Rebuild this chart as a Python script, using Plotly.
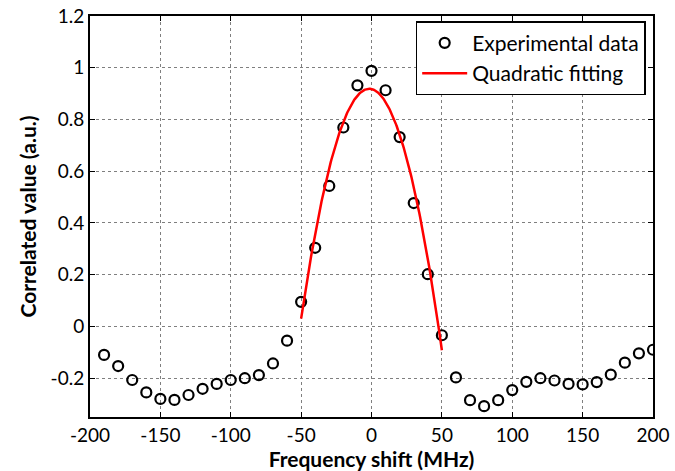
import numpy as np
import plotly.graph_objects as go

# Frequency shift (MHz) and measured correlation values
freq_shift = list(range(-190, 201, 10))
correlated = [
    -0.110, -0.153, -0.207, -0.255, -0.280, -0.284, -0.265, -0.241, -0.222, -0.207,
    -0.200, -0.188, -0.143, -0.055, 0.095, 0.304, 0.543, 0.769, 0.932, 0.988,
    0.913, 0.732, 0.477, 0.202, -0.034, -0.197, -0.285, -0.308, -0.285, -0.246,
    -0.214, -0.200, -0.209, -0.222, -0.224, -0.215, -0.186, -0.140, -0.104, -0.090,
]

# Axis ticks
x_ticks = [-200, -150, -100, -50, 0, 50, 100, 150, 200]
x_tick_labels = ["-200", "-150", "-100", "-50", "0", "50", "100", "150", "200"]
y_ticks = [-0.2, 0, 0.2, 0.4, 0.6, 0.8, 1, 1.2]
y_tick_labels = ["-0.2", "0", "0.2", "0.4", "0.6", "0.8", "1", "1.2"]

# Quadratic fit over the central lobe (-50 .. 50 MHz)
fit_lo, fit_hi = -50, 50
xs = np.array(freq_shift, dtype=float)
ys = np.array(correlated, dtype=float)
sel = (xs >= fit_lo) & (xs <= fit_hi)
coef = np.polyfit(xs[sel], ys[sel], 2)
fit_x = np.linspace(fit_lo, fit_hi, 201)
fit_y = np.polyval(coef, fit_x)

FONT = "Lato"

fig = go.Figure()
fig.add_trace(go.Scatter(
    x=freq_shift, y=correlated, mode="markers", name="Experimental data",
    marker=dict(symbol="circle-open", size=10, color="black", line=dict(width=2.2, color="black")),
))
fig.add_trace(go.Scatter(
    x=fit_x, y=fit_y, mode="lines", name="Quadratic fitting",
    line=dict(color="#ff0000", width=2.5),
))

axis_common = dict(
    automargin=False,
    showgrid=True, gridcolor="#7f7f7f", griddash="dot", gridwidth=1,
    zeroline=False, showline=True, linecolor="black", linewidth=2, mirror="ticks",
    ticks="inside", ticklen=5, tickcolor="black", tickwidth=1,
    tickfont=dict(family=FONT, size=19, color="black"),
)

fig.update_layout(
    width=675, height=471,
    margin=dict(l=90, r=22, t=16, b=54, autoexpand=False),
    paper_bgcolor="white", plot_bgcolor="white",
    showlegend=True,
    legend=dict(
        x=0.987, y=0.987, xanchor="right", yanchor="top",
        bgcolor="white", bordercolor="black", borderwidth=1.5,
        font=dict(family=FONT, size=21, color="black"),
        itemwidth=45, tracegroupgap=0,
    ),
    xaxis=dict(
        range=[-200, 200], tickvals=x_ticks, ticktext=x_tick_labels,
        title=dict(text="<b>Frequency shift (MHz)</b>", font=dict(family=FONT, size=21, color="black"), standoff=4),
        **axis_common,
    ),
    yaxis=dict(
        range=[-0.35, 1.2], tickvals=y_ticks, ticktext=y_tick_labels,
        title=dict(text="<b>Correlated value (a.u.)</b>", font=dict(family=FONT, size=21, color="black"), standoff=8),
        **axis_common,
    ),
)

fig.write_html("out.html")
